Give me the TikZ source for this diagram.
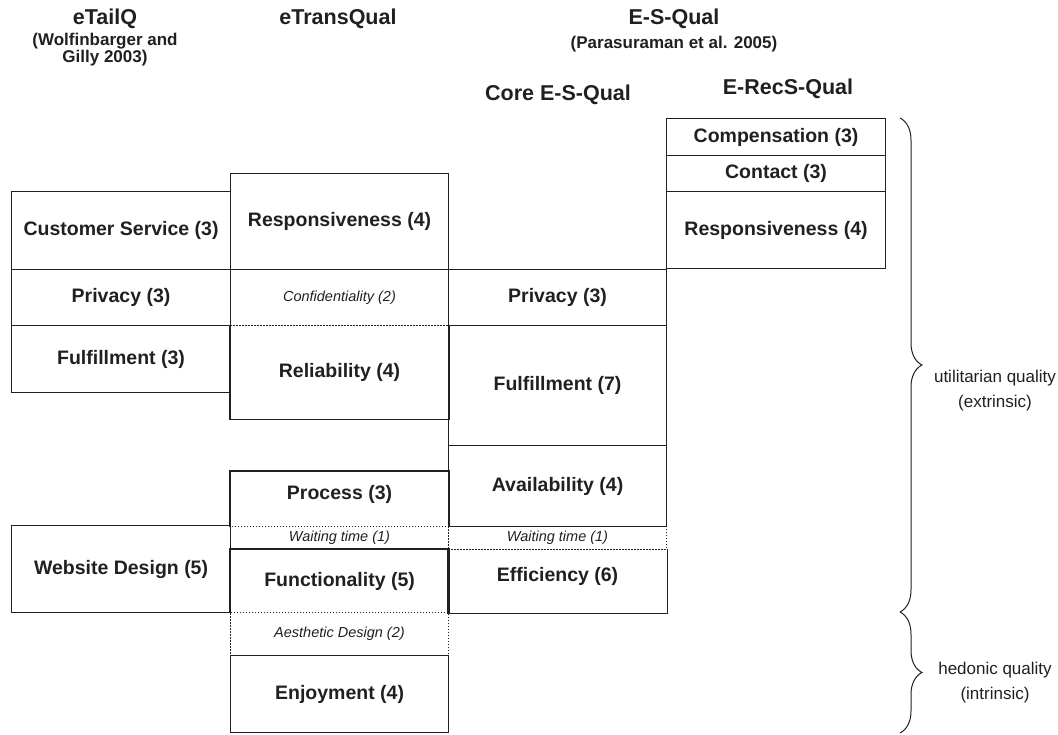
\documentclass[tikz,border=0pt]{standalone}
\usepackage{fontspec}
\setmainfont{Liberation Sans}
\usetikzlibrary{decorations.pathreplacing}
\definecolor{ink}{HTML}{231F20}

\begin{document}
\begin{tikzpicture}[x=1pt, y=-1pt, color=ink, line width=1.1pt,
  cell/.style={anchor=north west, rectangle, inner sep=0pt, font=\bfseries\fontsize{19.5}{23}\selectfont},
  box/.style={cell, draw},
  sub/.style={cell, draw, dash pattern=on 1.5pt off 1.5pt, line width=0.9pt, font=\itshape\fontsize{14.5}{17}\selectfont},
  head/.style={font=\bfseries\fontsize{21.5}{25}\selectfont},
  src/.style={font=\bfseries\fontsize{17}{17}\selectfont, align=center},
  side/.style={font=\fontsize{17}{25}\selectfont, align=center},
  brc/.style={decorate, decoration={brace, amplitude=22pt}, line width=1pt}]
  \useasboundingbox (0,0) rectangle (1058,735);

  \node[head] (etailq) at (105,19) {eTailQ};
  \node[src] (wolf) at (105,50) {(Wolfinbarger and\\Gilly 2003)};
  \node[head] (etrans) at (338,19) {eTransQual};
  \node[head] (esqual) at (674,19) {E-S-Qual};
  \node[src] (para) at (674,44) {(Parasuraman et al. 2005)};
  \node[head] (core) at (558,95) {Core E-S-Qual};
  \node[head] (recs) at (788,89) {E-RecS-Qual};

  \node[sub, minimum width=218pt, minimum height=56pt] (conf) at (230,269) {Confidentiality (2)};
  \node[sub, minimum width=218pt, minimum height=23pt] (waitb) at (230,526) {Waiting time (1)};
  \node[sub, minimum width=218pt, minimum height=43pt] (aes) at (230,612) {Aesthetic Design (2)};
  \node[sub, minimum width=218pt, minimum height=23pt] (waitc) at (448,526) {Waiting time (1)};

  \node[box, minimum width=219pt, minimum height=78pt] (cserv) at (11,191) {Customer Service (3)};
  \node[box, minimum width=219pt, minimum height=56pt] (priva) at (11,269) {Privacy (3)};
  \node[box, minimum width=219pt, minimum height=67pt] (fulfa) at (11,325) {Fulfillment (3)};
  \node[box, minimum width=219pt, minimum height=87pt] (webd) at (11,525) {Website Design (5)};

  \node[box, minimum width=218pt, minimum height=96pt] (respb) at (230,173) {Responsiveness (4)};
  \node[cell, minimum width=218pt, minimum height=93pt] (relb) at (230,325) {Reliability (4)};
  \node[cell, minimum width=218pt, minimum height=55pt] (procb) at (230,471) {\raisebox{14pt}{Process (3)}};
  \node[cell, minimum width=218pt, minimum height=63pt] (funcb) at (230,549) {Functionality (5)};
  \node[box, minimum width=218pt, minimum height=77pt] (enjb) at (230,655) {Enjoyment (4)};

  \node[box, minimum width=218pt, minimum height=56pt] (privc) at (448,269) {Privacy (3)};
  \node[box, minimum width=218pt, minimum height=120pt] (fulfc) at (448,325) {Fulfillment (7)};
  \node[box, minimum width=218pt, minimum height=81pt] (availc) at (448,445) {Availability (4)};
  \node[cell, minimum width=218pt, minimum height=63pt] (effc) at (448,549) {\raisebox{14pt}{Efficiency (6)}};

  \node[box, minimum width=219pt, minimum height=37pt] (comp) at (666,118) {Compensation (3)};
  \node[box, minimum width=219pt, minimum height=36pt] (cont) at (666,155) {Contact (3)};
  \node[box, minimum width=219pt, minimum height=77pt] (respd) at (666,191) {Responsiveness (4)};

  \draw (relb.north west) -- (relb.south west) -- (relb.south east) -- (relb.north east);
  \draw (procb.south west) -- (procb.north west) -- (procb.north east) -- (procb.south east);
  \draw (funcb.south west) -- (funcb.north west) -- (funcb.north east) -- (funcb.south east);
  \draw (effc.north west) -- (effc.south west) -- (effc.south east) -- (effc.north east);

  \coordinate (u1) at (900,118);
  \coordinate (u2) at (900,612);
  \coordinate (h2) at (900,733);
  \draw[brc] (u1) -- (u2);
  \draw[brc] (u2) -- (h2);
  \node[side] (util) at (995,391) {utilitarian quality\\(extrinsic)};
  \node[side] (hedo) at (995,683) {hedonic quality\\(intrinsic)};
\end{tikzpicture}
\end{document}
